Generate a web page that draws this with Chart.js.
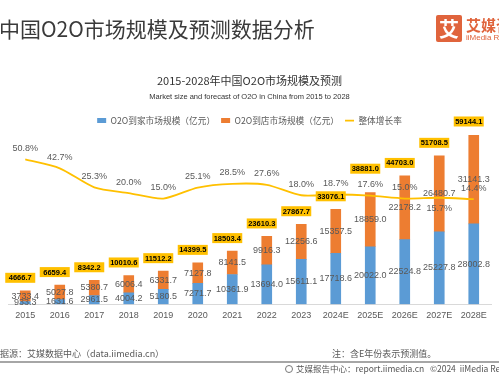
<!DOCTYPE html>
<html lang="zh">
<head>
<meta charset="UTF-8" />
<title>中国O2O市场规模及预测数据分析</title>
<script src="https://cdn.jsdelivr.net/npm/chart.js"></script>
<style>
  html, body { margin: 0; padding: 0; background: #fff; }
  body { width: 499px; height: 375px; position: relative; overflow: hidden; font-family: "Noto Sans CJK SC", sans-serif; }
  #grafica { position: absolute; left: 0; top: 0; }
  .txt { position: absolute; white-space: nowrap; color: #595959; }
  #cabecera { left: -1px; top: 13px; font-size: 21px; color: #3a3a3a; }
  #logo { position: absolute; left: 436px; top: 15px; width: 26px; height: 27px; background: #e0643c; border-radius: 2px;
          color: #fff; font-size: 20px; font-weight: bold; text-align: center; line-height: 27px; }
  #marca { left: 466px; top: 14px; font-size: 15px; color: #e0643c; font-weight: bold; }
  #marca2 { left: 466px; top: 33px; font-size: 8px; color: #e0643c; font-family: "Liberation Sans", sans-serif; }
  #fuente { left: 0px; top: 347px; font-size: 9px; }
  #nota { left: 332px; top: 347px; font-size: 9px; }
  #linea { position: absolute; left: 0; top: 361px; width: 499px; height: 2px; background: #a6a6a6; }
  #pie { left: 285px; top: 362px; font-size: 8.5px; color: #555; }
  #pie i { display: inline-block; width: 8px; height: 8px; border-radius: 50%; border: 1.5px solid #777; box-sizing: border-box; vertical-align: -1px; margin-right: 3px; }
</style>
</head>
<body>
  <canvas id="grafica" width="499" height="375"></canvas>
  <div class="txt" id="cabecera">中国O2O市场规模及预测数据分析</div>
  <div id="logo">艾</div>
  <div class="txt" id="marca">艾媒咨询</div>
  <div class="txt" id="marca2">iiMedia Research</div>
  <div class="txt" id="fuente">据源：艾媒数据中心（data.iimedia.cn）</div>
  <div class="txt" id="nota">注：含E年份表示预测值。</div>
  <div id="linea"></div>
  <div class="txt" id="pie"><i></i>艾媒报告中心：report.iimedia.cn &nbsp; ©2024 &nbsp;iiMedia Research</div>

<script>
// datos
const anios = ['2015', '2016', '2017', '2018', '2019', '2020', '2021', '2022', '2023', '2024E', '2025E', '2026E', '2027E', '2028E'];
const aDomicilio = [933.3, 1631.6, 2961.5, 4004.2, 5180.5, 7271.7, 10361.9, 13694.0, 15611.1, 17718.6, 20022.0, 22524.8, 25227.8, 28002.8];
const enTienda = [3733.4, 5027.8, 5380.7, 6006.4, 6331.7, 7127.8, 8141.5, 9916.3, 12256.6, 15357.5, 18859.0, 22178.2, 26480.7, 31141.3];
const totales = [4666.7, 6659.4, 8342.2, 10010.6, 11512.2, 14399.5, 18503.4, 23610.3, 27867.7, 33076.1, 38881.0, 44703.0, 51708.5, 59144.1];
const crecimiento = [50.8, 42.7, 25.3, 20.0, 15.0, 25.1, 28.5, 27.6, 18.0, 18.7, 17.6, 15.0, 15.7, 14.4];

const AZUL = '#5b9bd5';
const NARANJA = '#ed7d31';
const AMARILLO = '#ffc000';
const GRIS = '#595959';
const NUM = '"Liberation Sans", sans-serif';

// etiquetas de valores dibujadas sobre el canvas
const etiquetas = {
  id: 'etiquetas',
  afterDatasetsDraw(chart) {
    const ctx = chart.ctx;
    const mAzul = chart.getDatasetMeta(0);
    const mNaranja = chart.getDatasetMeta(1);
    const mLinea = chart.getDatasetMeta(2);
    ctx.save();
    ctx.textAlign = 'center';
    ctx.textBaseline = 'middle';

    // valores de cada segmento
    ctx.font = '9px ' + NUM;
    ctx.fillStyle = GRIS;
    [[mAzul, aDomicilio], [mNaranja, enTienda]].forEach(([meta, datos]) => {
      meta.data.forEach((el, i) => {
        ctx.fillText(datos[i].toFixed(1), el.x, (el.y + el.base) / 2);
      });
    });

    // posición de las etiquetas de la línea
    const posLinea = mLinea.data.map((pt, i) => ({ x: pt.x, y: pt.y + (i === 12 ? 11 : -11) }));

    // totales en caja amarilla (si choca con la etiqueta de la línea, se sube)
    ctx.font = 'bold 7.5px ' + NUM;
    mNaranja.data.forEach((el, i) => {
      let cy = el.y - 13;
      const lbl = posLinea[i];
      if (Math.abs(cy - lbl.y) < 11) cy = lbl.y - 16;
      ctx.fillStyle = AMARILLO;
      ctx.fillRect(el.x - 20, cy - 5, 30, 10);
      ctx.fillStyle = '#000';
      ctx.fillText(totales[i].toFixed(1), el.x - 5, cy + 0.5);
    });

    // tasa de crecimiento
    ctx.font = '9px ' + NUM;
    ctx.fillStyle = GRIS;
    posLinea.forEach((p, i) => {
      ctx.fillText(crecimiento[i].toFixed(1) + '%', p.x, p.y);
    });
    ctx.restore();
  }
};

new Chart(document.getElementById('grafica'), {
  type: 'bar',
  data: {
    labels: anios,
    datasets: [
      {
        label: 'O2O到家市场规模（亿元）',
        data: aDomicilio,
        backgroundColor: AZUL,
        pointStyle: 'rect',
        barThickness: 10,
        order: 2,
        yAxisID: 'y'
      },
      {
        label: 'O2O到店市场规模（亿元）',
        data: enTienda,
        backgroundColor: NARANJA,
        pointStyle: 'rect',
        barThickness: 10,
        order: 2,
        yAxisID: 'y'
      },
      {
        type: 'line',
        label: '整体增长率',
        data: crecimiento,
        borderColor: AMARILLO,
        backgroundColor: AMARILLO,
        borderWidth: 1.8,
        pointRadius: 0,
        pointStyle: 'line',
        tension: 0.25,
        order: 0,
        yAxisID: 'y1'
      }
    ]
  },
  options: {
    responsive: false,
    animation: false,
    layout: { padding: { top: 74, left: 8, right: 8, bottom: 48 } },
    plugins: {
      title: {
        display: true,
        text: '2015-2028年中国O2O市场规模及预测',
        color: '#333',
        font: { family: '"Noto Sans CJK SC", sans-serif', size: 11, weight: 'normal' },
        padding: { top: 0, bottom: 3 }
      },
      subtitle: {
        display: true,
        text: 'Market size and forecast of O2O in China from 2015 to 2028',
        color: '#333',
        font: { family: NUM, size: 7.5 },
        padding: { top: 2, bottom: 9 }
      },
      legend: {
        labels: {
          usePointStyle: true,
          pointStyleWidth: 9,
          boxHeight: 5,
          padding: 6,
          color: GRIS,
          font: { family: '"Noto Sans CJK SC", sans-serif', size: 8.7 },
          sort: (a, b) => a.datasetIndex - b.datasetIndex
        }
      },
      tooltip: { enabled: false }
    },
    scales: {
      x: {
        stacked: true,
        grid: { display: false, drawTicks: false },
        border: { display: true, color: '#d9d9d9', width: 1 },
        ticks: { color: GRIS, padding: 6, font: { family: NUM, size: 9 } }
      },
      y: {
        stacked: true,
        display: false,
        min: 0,
        max: 59000
      },
      y1: {
        display: false,
        min: -81.8,
        max: 73.3
      }
    }
  },
  plugins: [etiquetas]
});
</script>
</body>
</html>
